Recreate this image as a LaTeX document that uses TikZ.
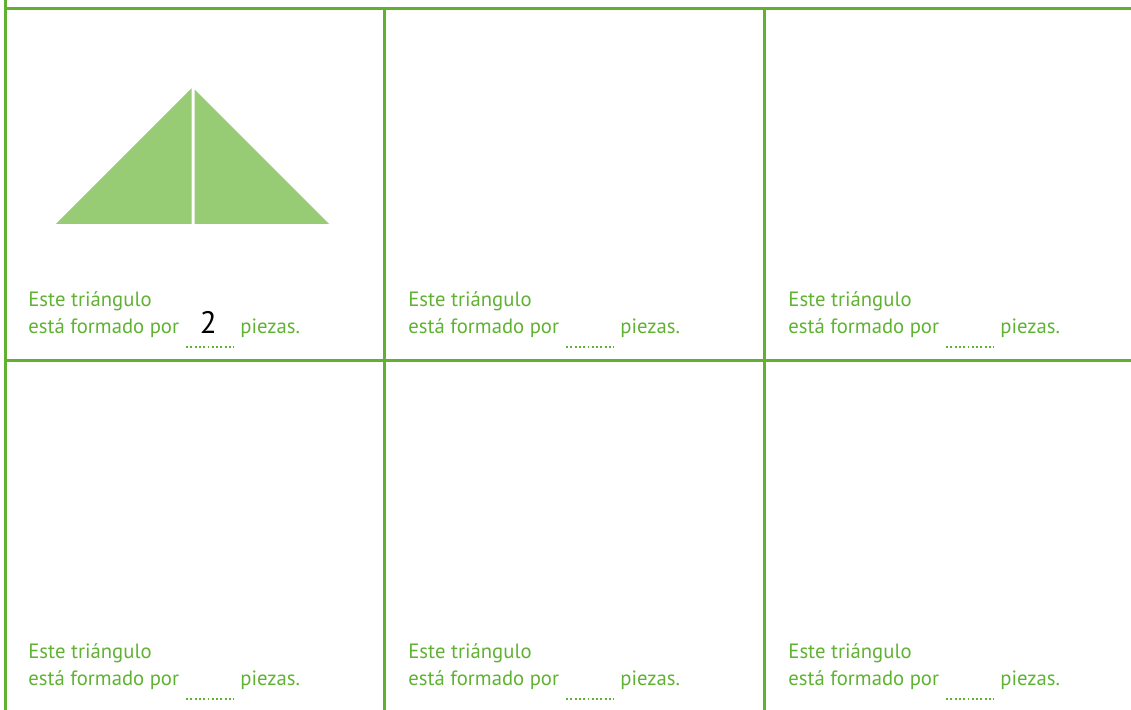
\documentclass[tikz,border=0pt]{standalone}
\usepackage{fontspec}
\setmainfont{PT Sans}
\usepackage{tikz}
\usetikzlibrary{positioning}
\definecolor{linegreen}{RGB}{98,176,48}
\definecolor{textgreen}{RGB}{96,178,50}
\definecolor{piecegreen}{RGB}{151,203,116}
\tikzset{
  gridline/.style={draw=linegreen,line width=1.5pt},
  celltext/.style={anchor=base west,inner sep=0pt,text=textgreen,font=\fontsize{10.35pt}{12pt}\selectfont},
  answer/.style={anchor=base,inner sep=0pt,text=black,font=\fontsize{15.5pt}{18pt}\selectfont},
  blankdots/.style={draw=textgreen,line width=0.95pt,dash pattern=on 0.95pt off 1.2pt},
  piece/.style={fill=piecegreen,draw=none}
}
\begin{document}
\begin{tikzpicture}[x=0.5pt,y=-0.5pt]
  \useasboundingbox (0,0) rectangle (1131,710);
  % grid of cells
  \draw[gridline] (5,9) -- (1131,9);
  \draw[gridline] (5,361) -- (1131,361);
  \draw[gridline] (5,0) -- (5,710);
  \draw[gridline] (384.5,9) -- (384.5,710);
  \draw[gridline] (764.5,9) -- (764.5,710);
  % the triangle in two pieces
  \fill[piece] (56,224) -- (191.5,224) -- (191.5,88.5) -- cycle;
  \fill[piece] (194.5,224) -- (329,224) -- (194.5,89.5) -- cycle;
  % one caption per cell
  \foreach \row/\dy in {1/0,2/352}{
    \foreach \col/\dx in {1/0,2/380,3/760}{
      \node[celltext] (top\row\col) at (28+\dx,306.7+\dy) {Este triángulo};
      \node[celltext] (bot\row\col) at (28+\dx,333.3+\dy) {está formado por};
      \node[celltext] (pz\row\col) at (240+\dx,333.3+\dy) {piezas.};
      \draw[blankdots] (186+\dx,346.7+\dy) -- (234+\dx,346.7+\dy);
    }
  }
  \node[answer] (ans) at (208.4,334) {2};
\end{tikzpicture}
\end{document}
